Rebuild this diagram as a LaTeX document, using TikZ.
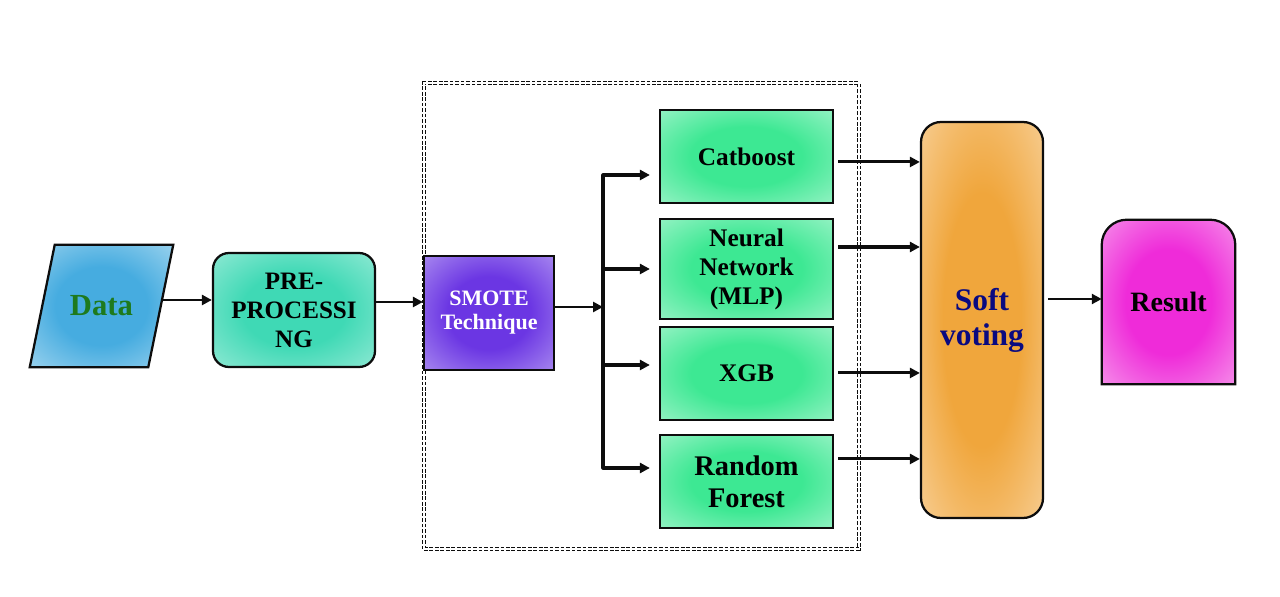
\documentclass[tikz,border=0pt]{standalone}
\usepackage{fontspec}
\setmainfont{Liberation Serif}
\usetikzlibrary{shapes.geometric,arrows.meta}
\colorlet{rin}{white}
\colorlet{rout}{white}
\pgfdeclareradialshading[rin,rout]{glow}{\pgfpoint{0bp}{0bp}}{color(0bp)=(rin); color(16bp)=(rin); color(48bp)=(rout); color(75bp)=(rout)}
\definecolor{datain}{HTML}{46ACE0}\definecolor{dataout}{HTML}{CDE9F6}
\definecolor{prein}{HTML}{3FD9B5}\definecolor{preout}{HTML}{BFF2E6}
\definecolor{smin}{HTML}{6B36E3}\definecolor{smout}{HTML}{CBB8F7}
\definecolor{mdin}{HTML}{3DE893}\definecolor{mdout}{HTML}{C8F8E0}
\definecolor{sfin}{HTML}{F0A63C}\definecolor{sfout}{HTML}{FBE4C4}
\definecolor{rsin}{HTML}{EF2BD9}\definecolor{rsout}{HTML}{F9C9F3}
\definecolor{datatext}{HTML}{1E7A1E}
\definecolor{navy}{HTML}{0A0A80}
\definecolor{edge}{HTML}{0D0D0D}
\tikzset{
  rglow/.style 2 args={shading=glow,/utils/exec={\colorlet{rin}{#1}\colorlet{rout}{#2}}},
  box/.style={draw=edge, line width=1.7pt, align=center, inner sep=0pt, font=\bfseries},
  model/.style={box, rglow={mdin}{mdout}, minimum width=129.75pt, minimum height=69.75pt,
    font=\fontsize{19}{21.75}\selectfont\bfseries},
  arr/.style={line width=2pt, draw=edge, -{Triangle[length=7.5pt,width=7.5pt]}},
  thickarr/.style={arr, line width=2.3pt},
  frame/.style={draw=edge, line width=1.3pt, double=white, double distance=0.9pt,
    dash pattern=on 2.8pt off 1.3pt, inner sep=0pt},
}
\begin{document}
\begin{tikzpicture}[x=0.75pt,y=0.75pt]
\useasboundingbox (0,0) rectangle (1280,596);
% dashed frame
\node[frame, minimum width=326.25pt, minimum height=349.5pt] (frame) at (641.5,280) {};
% data (parallelogram)
\node[minimum width=107.25pt, minimum height=91.5pt, inner sep=0pt] (data) at (101.5,290) {};
\draw[draw=edge, line width=1.7pt, rglow={datain}{dataout}]
  (data.south west) -- ([xshift=18.75pt]data.north west) -- (data.north east)
  -- ([xshift=-18.75pt]data.south east) -- cycle;
\node[text=datatext, font=\fontsize{23}{26}\selectfont\bfseries] (datatext) at (data.center) {Data};
% preprocessing
\node[box, rounded corners=12pt, minimum width=121.5pt, minimum height=85.5pt,
  rglow={prein}{preout}, font=\fontsize{18.8}{21.75}\selectfont\bfseries] (pre) at (294,286) {PRE-\\PROCESSI\\NG};
% smote
\node[box, minimum width=97.5pt, minimum height=85.5pt, rglow={smin}{smout},
  text=white, font=\fontsize{16.5}{18}\selectfont\bfseries] (smote) at (489,283) {SMOTE\\Technique};
% models
\node[model] (cat) at (746.5,439.5) {Catboost};
\node[model, minimum height=75pt] (nn) at (746.5,327) {Neural\\Network\\(MLP)};
\node[model] (xgb) at (746.5,222.5) {XGB};
\node[model, font=\fontsize{21.3}{23.8}\selectfont\bfseries] (rf) at (746.5,114.5) {Random\\Forest};
% soft voting
\node[box, rounded corners=15pt, minimum width=91.5pt, minimum height=297pt,
  rglow={sfin}{sfout}, text=navy, font=\fontsize{23.6}{26.3}\selectfont\bfseries] (soft) at (982,276) {Soft\\voting};
% result
\node[minimum width=99.75pt, minimum height=123pt, inner sep=0pt] (res) at (1168.5,294) {};
\draw[draw=edge, line width=1.7pt, rglow={rsin}{rsout}]
  (res.south west) -- ([yshift=-18.75pt]res.north west)
  arc[start angle=180, end angle=90, radius=18.75pt]
  -- ([xshift=-18.75pt]res.north east)
  arc[start angle=90, end angle=0, radius=18.75pt]
  -- (res.south east) -- cycle;
\node[font=\fontsize{21}{24}\selectfont\bfseries] (restext) at (res.center) {Result};
% connectors
\coordinate (a1) at ([xshift=-7.5pt,yshift=4.5pt]data.east);
\draw[arr] (a1) -- (a1 -| pre.west);
\coordinate (a2) at ([yshift=6pt]pre.east);
\draw[arr] (a2) -- (a2 -| smote.west);
\coordinate (sp) at (603,289);
\coordinate (sptop) at (603,421);
\coordinate (spbot) at (603,128);
\draw[arr] (sp -| smote.east) -- (sp);
\draw[line width=2.3pt, draw=edge, line join=round] ([xshift=8pt]sptop) -- (sptop) -- (spbot) -- ([xshift=8pt]spbot);
\coordinate (b2) at (603,327);
\coordinate (b3) at (603,231);
\draw[thickarr, shorten >=6.75pt] (sptop) -- (sptop -| cat.west);
\draw[thickarr, shorten >=6.75pt] (b2) -- (b2 -| nn.west);
\draw[thickarr, shorten >=6.75pt] (b3) -- (b3 -| xgb.west);
\draw[thickarr, shorten >=6.75pt] (spbot) -- (spbot -| rf.west);
\coordinate (c1) at ([yshift=-4.1pt]cat.east);
\coordinate (c2) at ([yshift=16.5pt]nn.east);
\coordinate (c3) at ([yshift=0.4pt]xgb.east);
\coordinate (c4) at ([yshift=16.9pt]rf.east);
\foreach \c in {c1,c2,c3,c4}{
  \draw[thickarr, shorten <=3pt] (\c) -- (\c -| soft.west);
}
\coordinate (d1) at ([yshift=15.75pt]soft.east);
\draw[arr, shorten <=3pt] (d1) -- (d1 -| res.west);
\end{tikzpicture}
\end{document}
